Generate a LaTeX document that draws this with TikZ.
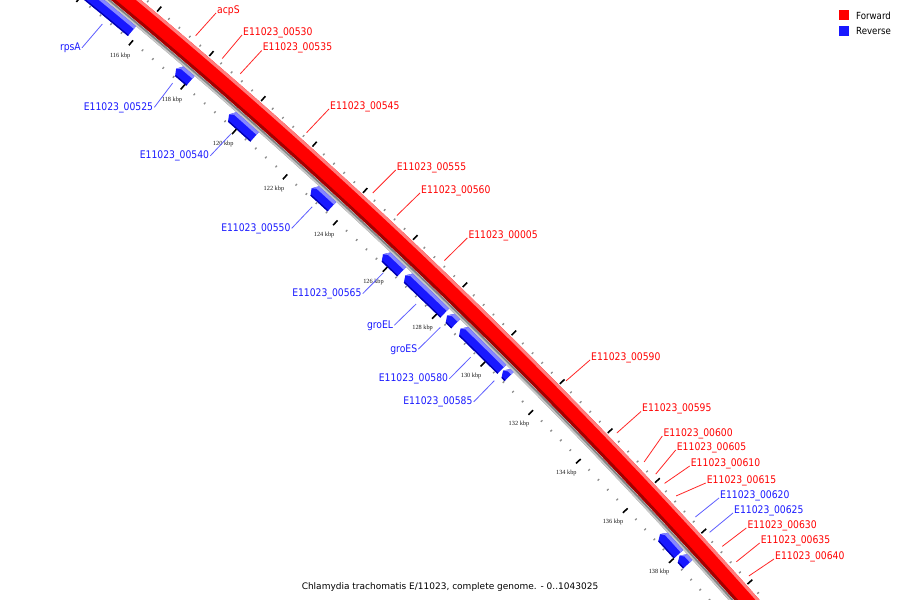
\documentclass[tikz,border=0pt]{standalone}
\usepackage{fontspec}
\setmainfont{DejaVu Sans}
\newfontfamily\labelfont[FakeStretch=0.88]{DejaVu Sans}
\newfontfamily\kbpfont{Liberation Serif}
\usetikzlibrary{calc}
\usetikzlibrary{positioning}
\colorlet{forward}{red}
\definecolor{forwardlight}{RGB}{255,125,125}
\definecolor{forwarddark}{RGB}{165,0,0}
\definecolor{reverse}{RGB}{25,25,255}
\definecolor{reverselight}{RGB}{135,135,255}
\definecolor{reversedark}{RGB}{0,0,175}
\definecolor{backbone}{RGB}{130,130,130}
\definecolor{backbonelight}{RGB}{200,200,200}

\newcommand{\posangle}[1]{90.07-0.34515*(#1)}
\newcommand{\ringpiece}[5]{%
  \fill[#5] ({\posangle{#1}}:#3pt) arc[start angle={\posangle{#1}}, end angle={\posangle{#2}}, radius=#3pt]
    -- ({\posangle{#2}}:#4pt) arc[start angle={\posangle{#2}}, end angle={\posangle{#1}}, radius=#4pt] -- cycle;}
\newcommand{\revgene}[2]{%
  \fill[reverse] ({\posangle{#1+0.12}}:5668.6pt) arc[start angle={\posangle{#1+0.12}}, end angle={\posangle{#2}}, radius=5668.6pt]
    -- ({\posangle{#2}}:5656pt) arc[start angle={\posangle{#2}}, end angle={\posangle{#1+0.12}}, radius=5656pt]
    -- ({\posangle{#1}}:5662.3pt) -- cycle;
  \ringpiece{#1+0.12}{#2}{5665.3}{5668.6}{reverselight}
  \fill[reverselight] ({\posangle{#1+0.12}}:5668.6pt) -- ({\posangle{#1}}:5662.3pt) -- ({\posangle{#1+0.12}}:5665.3pt) -- cycle;
  \ringpiece{#1+0.12}{#2}{5656}{5657.3}{reversedark}}

\begin{document}
\begin{tikzpicture}[x=1pt, y=1pt,
    gene label/.style={font=\labelfont\fontsize{10.5}{12}\selectfont, inner sep=1pt},
    fwd label/.style={gene label, text=forward, anchor=base west},
    rev label/.style={gene label, text=reverse, anchor=base east},
    kbp label/.style={font=\kbpfont\fontsize{6.3}{7}\selectfont, text=black!90, inner sep=0pt},
    major tick/.style={black, line width=1.6pt},
    minor tick/.style={black!45, line width=1.3pt},
    fwd line/.style={forward!85, line width=0.8pt},
    rev line/.style={reverse!70, line width=0.8pt},
    legend text/.style={font=\labelfont\fontsize{9.8}{11}\selectfont, anchor=base west, inner sep=0pt}]
  \useasboundingbox (0,0) rectangle (900,-600);
  \fill[white] (0,0) rectangle (900,-600);
  \begin{scope}
    \clip (0,0) rectangle (900,-600);
    \begin{scope}[shift={(-3500,-4375)}]
      \ringpiece{110}{146}{5673}{5692}{forward}
      \ringpiece{110}{146}{5673}{5676}{forwarddark}
      \ringpiece{110}{146}{5689}{5692}{forwardlight}
      \ringpiece{110}{146}{5668.8}{5672.6}{backbone}
      \ringpiece{110}{146}{5668.8}{5670.6}{backbonelight}

      \revgene{112}{115.8}
      \revgene{117.5}{118.05}
      \revgene{119.55}{120.55}
      \revgene{122.8}{123.6}
      \revgene{125.65}{126.4}
      \revgene{126.55}{128.15}
      \revgene{128.25}{128.6}
      \revgene{128.8}{130.5}
      \revgene{130.55}{130.8}
      \revgene{137.2}{138.0}
      \revgene{138.05}{138.4}

      \foreach \i in {275,...,365}{
        \pgfmathsetmacro{\tickang}{\posangle{0.4*\i}}
        \pgfmathtruncatemacro{\ismajor}{mod(\i,5)==0}
        \ifnum\ismajor=1
          \draw[major tick] (\tickang:5649.5pt) -- (\tickang:5656pt) (\tickang:5693.5pt) -- (\tickang:5700pt);
        \else
          \draw[minor tick] (\tickang:5653.4pt) -- (\tickang:5655.6pt) (\tickang:5694.4pt) -- (\tickang:5696.6pt);
        \fi
      }
      \foreach \k in {116,118,...,138}
        \node[kbp label] (kbp\k) at ({\posangle{\k}}:5636pt) {\k\ kbp};

      \coordinate (acpS-pt) at ({\posangle{117.31}}:5700pt);
      \coordinate (g00530-pt) at ({\posangle{118.33}}:5700pt);
      \coordinate (g00535-pt) at ({\posangle{119.02}}:5700pt);
      \coordinate (g00545-pt) at ({\posangle{121.60}}:5700pt);
      \coordinate (g00555-pt) at ({\posangle{124.21}}:5700pt);
      \coordinate (g00560-pt) at ({\posangle{125.17}}:5700pt);
      \coordinate (g00005-pt) at ({\posangle{127.08}}:5700pt);
      \coordinate (g00590-pt) at ({\posangle{132.06}}:5700pt);
      \coordinate (g00595-pt) at ({\posangle{134.18}}:5700pt);
      \coordinate (g00600-pt) at ({\posangle{135.34}}:5700pt);
      \coordinate (g00605-pt) at ({\posangle{135.83}}:5700pt);
      \coordinate (g00610-pt) at ({\posangle{136.20}}:5700pt);
      \coordinate (g00615-pt) at ({\posangle{136.70}}:5700pt);
      \coordinate (g00620-pt) at ({\posangle{137.53}}:5700pt);
      \coordinate (g00625-pt) at ({\posangle{138.14}}:5700pt);
      \coordinate (g00630-pt) at ({\posangle{138.69}}:5700pt);
      \coordinate (g00635-pt) at ({\posangle{139.30}}:5700pt);
      \coordinate (g00640-pt) at ({\posangle{139.85}}:5700pt);

      \coordinate (rpsA-pt) at ({\posangle{115.00}}:5649pt);
      \coordinate (g00525-pt) at ({\posangle{117.70}}:5649pt);
      \coordinate (g00540-pt) at ({\posangle{119.97}}:5649pt);
      \coordinate (g00550-pt) at ({\posangle{123.18}}:5649pt);
      \coordinate (g00565-pt) at ({\posangle{126.03}}:5649pt);
      \coordinate (groEL-pt) at ({\posangle{127.36}}:5649pt);
      \coordinate (groES-pt) at ({\posangle{128.35}}:5649pt);
      \coordinate (g00580-pt) at ({\posangle{129.60}}:5649pt);
      \coordinate (g00585-pt) at ({\posangle{130.58}}:5649pt);
    \end{scope}
  \end{scope}

  \node[fwd label] (acpS) at (216,-13) {acpS};
  \node[fwd label] (g00530) at (242,-35) {E11023\_00530};
  \node[fwd label] (g00535) at (261.7,-50.5) {E11023\_00535};
  \node[fwd label] (g00545) at (329,-109) {E11023\_00545};
  \node[fwd label] (g00555) at (395.7,-170) {E11023\_00555};
  \node[fwd label] (g00560) at (420,-193) {E11023\_00560};
  \node[fwd label] (g00005) at (467.3,-238) {E11023\_00005};
  \node[fwd label] (g00590) at (590,-360) {E11023\_00590};
  \node[fwd label] (g00595) at (641,-411.5) {E11023\_00595};
  \node[fwd label] (g00600) at (662.3,-436) {E11023\_00600};
  \node[fwd label] (g00605) at (675.7,-450) {E11023\_00605};
  \node[fwd label] (g00610) at (689.7,-466) {E11023\_00610};
  \node[fwd label] (g00615) at (705.7,-483) {E11023\_00615};
  \node[fwd label, text=reverse] (g00620) at (719,-498) {E11023\_00620};
  \node[fwd label, text=reverse] (g00625) at (733,-513) {E11023\_00625};
  \node[fwd label] (g00630) at (746.3,-528) {E11023\_00630};
  \node[fwd label] (g00635) at (759.7,-543) {E11023\_00635};
  \node[fwd label] (g00640) at (774,-559) {E11023\_00640};

  \node[rev label] (rpsA) at (82,-50.5) {rpsA};
  \node[rev label] (g00525) at (154.3,-110) {E11023\_00525};
  \node[rev label] (g00540) at (210.3,-158.5) {E11023\_00540};
  \node[rev label] (g00550) at (291.7,-231) {E11023\_00550};
  \node[rev label] (g00565) at (362.7,-296.3) {E11023\_00565};
  \node[rev label] (groEL) at (394.3,-328) {groEL};
  \node[rev label] (groES) at (418.3,-352) {groES};
  \node[rev label] (g00580) at (449.3,-381.5) {E11023\_00580};
  \node[rev label] (g00585) at (473.7,-404.5) {E11023\_00585};

  \foreach \g in {acpS,g00530,g00535,g00545,g00555,g00560,g00005,g00590,g00595,
                  g00600,g00605,g00610,g00615,g00630,g00635,g00640}
    \draw[fwd line] (\g.base west) -- (\g-pt);
  \foreach \g in {g00620,g00625}
    \draw[rev line] (\g.base west) -- (\g-pt);
  \foreach \g in {rpsA,g00525,g00540,g00550,g00565,groEL,groES,g00580,g00585}
    \draw[rev line] (\g.east) -- (\g-pt);

  \node[fill=forward, minimum size=10pt, inner sep=0pt] (fwdkey) at (844.3,-15) {};
  \node[fill=reverse, minimum size=10pt, inner sep=0pt] (revkey) at (844.3,-30.7) {};
  \node[legend text] (fwdtext) at (856,-19.3) {Forward};
  \node[legend text] (revtext) at (856,-34.7) {Reverse};

  \node[font=\fontsize{9}{11}\selectfont, anchor=base, inner sep=0pt] (caption) at (450,-589)
    {Chlamydia trachomatis E/11023, complete genome. - 0..1043025};
\end{tikzpicture}
\end{document}
